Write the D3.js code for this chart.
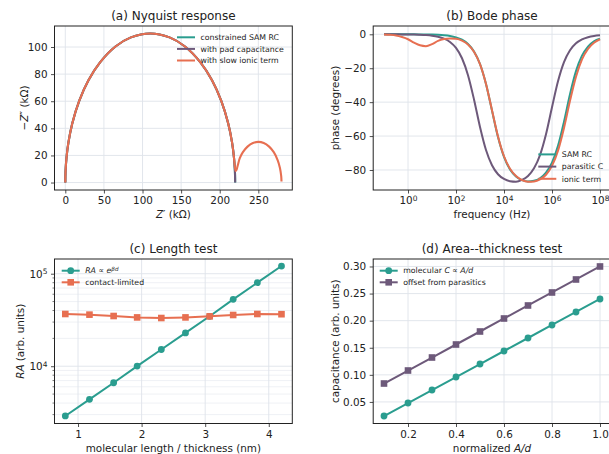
<!DOCTYPE html>
<html>
<head>
<meta charset="utf-8">
<script src="https://cdn.jsdelivr.net/npm/d3@7"></script>
<style>
  body { margin: 0; background: #fff; }
  svg text { font-family: "DejaVu Sans", sans-serif; fill: #222; }
</style>
</head>
<body>
<svg id="chart" width="609" height="454"></svg>
<script>
// (a) Nyquist response, kOhm (Z' and -Z'')
const nyqReSam = [0, 0.3, 1.5, 4, 9, 18, 30, 45, 65, 85, 110, 135, 155, 175, 190, 202, 211, 216, 218.5, 219.7, 220];
const nyqImSam = [0, 8.1, 18.1, 29.4, 43.6, 60.3, 75.5, 88.7, 100.4, 107.1, 110, 107.1, 100.4, 88.7, 75.5, 60.3, 43.6, 29.4, 18.1, 8.1, 0];
const nyqImPad = [0, 8.1, 18.1, 29.4, 43.6, 60.3, 75.5, 88.7, 100.4, 107.1, 110, 107.1, 100.4, 88.7, 75.5, 60.3, 43.6, 29.4, 18.1, 8.1, 0];
const nyqReIonic = [0, 0.3, 1.5, 4, 9, 18, 30, 45, 65, 85, 110, 135, 155, 175, 190, 202, 211, 216, 218.5,
  219.6, 220.6, 221.8, 223.5, 226, 230, 236, 243, 250, 257, 264, 270, 275, 278, 279.6, 280];
const nyqImIonic = [0, 8.1, 18.1, 29.4, 43.6, 60.3, 75.5, 88.7, 100.4, 107.1, 110, 107.1, 100.4, 88.7, 75.5, 60.3, 43.6, 29.4, 18.1,
  11.5, 8.6, 9.5, 13, 18, 22.4, 26.5, 29.2, 30, 29.2, 26.5, 22.4, 16.6, 10.8, 4.9, 0.8];

// (b) Bode phase: log10(frequency / Hz) and phase in degrees
const bodeExp = [-1, -0.75, -0.5, -0.25, 0, 0.25, 0.5, 0.75, 1, 1.25, 1.5, 1.75, 2, 2.25, 2.5, 2.75, 3, 3.25, 3.5,
  3.75, 4, 4.25, 4.5, 4.75, 5, 5.25, 5.5, 5.75, 6, 6.25, 6.5, 6.75, 7, 7.25, 7.5, 7.75, 8];
const phaseSam = [0, 0, -0.01, -0.01, -0.02, -0.03, -0.06, -0.1, -0.18, -0.32, -0.57, -1.0, -1.81, -3.2, -5.7, -10.1, -17.5, -29.3, -45,
  -60.6, -72.3, -79.7, -83.8, -86.0, -86.8, -86.4, -84.9, -81.6, -75.7, -65.8, -51.5, -35.3, -21.7, -12.6, -7.2, -4.1, -2.6];
const phasePar = [0, -0.01, -0.03, -0.05, -0.08, -0.14, -0.26, -0.46, -0.81, -1.44, -2.56, -4.5, -8.0, -14.1, -24.1, -38.4, -54.6, -68.2, -77.2,
  -82.5, -85.3, -86.6, -86.9, -85.8, -83.5, -79.0, -71.2, -58.9, -43.0, -27.7, -16.4, -9.4, -5.3, -3.0, -1.7, -0.95, -0.6];
const phaseIonic = [-0.1, -0.3, -0.7, -1.6, -2.9, -4.9, -6.5, -7.0, -5.8, -3.9, -2.8, -2.4, -2.6, -3.7, -6.0, -10.3, -17.6, -29.3, -44.8,
  -60.2, -71.9, -79.3, -83.6, -86.0, -86.9, -86.8, -85.6, -82.8, -77.6, -68.6, -55.2, -39.2, -25.0, -14.8, -8.6, -5.0, -2.9];

// (c) Length test
const lengthNm = [0.8, 1.18, 1.56, 1.93, 2.31, 2.69, 3.07, 3.44, 3.82, 4.2];
const raMolecular = [2900, 4390, 6630, 10030, 15160, 22920, 34660, 52800, 80000, 121000];
const raContact = [36700, 36100, 34900, 33700, 33200, 33700, 34600, 35800, 36700, 36500];

// (d) Area--thickness test
const areaOverD = [0.1, 0.2, 0.3, 0.4, 0.5, 0.6, 0.7, 0.8, 0.9, 1.0];
const capMolecular = [0.024, 0.048, 0.072, 0.096, 0.12, 0.144, 0.168, 0.192, 0.216, 0.24];
const capOffset = [0.084, 0.108, 0.132, 0.156, 0.18, 0.204, 0.228, 0.252, 0.276, 0.30];

const svg = d3.select("#chart");
const teal = "#2a9d8f", plum = "#6d597a", coral = "#e76f51";
const ink = "#222", gridCol = "#dfe3ea", minorCol = "#e8ebf0";

function box(l, r, t, b) { return {l, r, t, b, cx: (l + r) / 2, cy: (t + b) / 2}; }
const boxA = box(54.5, 292.3, 26, 190), boxB = box(373.2, 610.8, 26, 190);
const boxC = box(54.5, 292.3, 259, 423.5), boxD = box(373.2, 610.8, 259, 423.5);

function grid(bx, x, y, xt, yt, yMinor) {
    let g = svg.append("g");
    if (yMinor) {
        g.selectAll(".mn").data(yMinor).enter().append("line")
            .attr("x1", bx.l).attr("x2", bx.r).attr("y1", d => y(d)).attr("y2", d => y(d))
            .attr("stroke", minorCol).attr("stroke-width", 0.7);
    }
    g.selectAll(".gx").data(xt).enter().append("line")
        .attr("x1", d => x(d)).attr("x2", d => x(d)).attr("y1", bx.t).attr("y2", bx.b)
        .attr("stroke", gridCol).attr("stroke-width", 0.9);
    g.selectAll(".gy").data(yt).enter().append("line")
        .attr("x1", bx.l).attr("x2", bx.r).attr("y1", d => y(d)).attr("y2", d => y(d))
        .attr("stroke", gridCol).attr("stroke-width", 0.9);
}

function superscripts(g) {
    g.selectAll("text").each(function () {
        let s = d3.select(this), parts = s.text().split("^");
        if (parts.length < 2) return;
        s.text(parts[0]);
        s.append("tspan").attr("dy", "-0.45em").attr("font-size", "0.72em").text(parts[1]);
    });
}

function axes(bx, x, y, xt, yt, xf, yf, yMinor) {
    let gx = svg.append("g").attr("transform", `translate(0,${bx.b})`)
        .call(d3.axisBottom(x).tickValues(xt).tickFormat(xf).tickSize(3.5).tickPadding(3.5));
    let gy = svg.append("g").attr("transform", `translate(${bx.l},0)`)
        .call(d3.axisLeft(y).tickValues(yt).tickFormat(yf).tickSize(3.5).tickPadding(3.5));
    [gx, gy].forEach(g => {
        g.select(".domain").remove();
        g.selectAll("line").attr("stroke", ink).attr("stroke-width", 0.8);
        g.selectAll("text").attr("font-size", 10.4).attr("fill", ink).attr("font-family", null);
        superscripts(g);
    });
    if (yMinor) {
        svg.append("g").selectAll("line").data(yMinor).enter().append("line")
            .attr("x1", bx.l - 2).attr("x2", bx.l).attr("y1", d => y(d)).attr("y2", d => y(d))
            .attr("stroke", ink).attr("stroke-width", 0.6);
    }
    svg.append("rect").attr("x", bx.l).attr("y", bx.t)
        .attr("width", bx.r - bx.l).attr("height", bx.b - bx.t)
        .attr("fill", "none").attr("stroke", ink).attr("stroke-width", 1);
}

function richText(t, parts) {
    parts.forEach(p => {
        let sp = t.append("tspan").text(p.s);
        if (p.i) sp.attr("font-style", "italic");
        if (p.dy) sp.attr("dy", p.dy);
        if (p.fs) sp.attr("font-size", p.fs);
    });
    return t;
}

function labels(bx, title, xl, yl, ylx) {
    svg.append("text").attr("x", bx.cx).attr("y", bx.t - 6).attr("text-anchor", "middle")
        .attr("font-size", 12).text(title);
    richText(svg.append("text").attr("x", bx.cx).attr("y", bx.b + 28)
        .attr("text-anchor", "middle").attr("font-size", 10.4), xl);
    richText(svg.append("text").attr("transform", `translate(${ylx},${bx.cy}) rotate(-90)`)
        .attr("text-anchor", "middle").attr("font-size", 10.4), yl);
}

function marker(g, type, cx, cy, color) {
    if (type === "circle") {
        g.append("circle").attr("cx", cx).attr("cy", cy).attr("r", 3.4).attr("fill", color);
    } else if (type === "square") {
        g.append("rect").attr("x", cx - 3.3).attr("y", cy - 3.3).attr("width", 6.6).attr("height", 6.6).attr("fill", color);
    }
}

function legend(x0, y0, step, items) {
    let g = svg.append("g");
    items.forEach((it, i) => {
        let yy = y0 + i * step;
        g.append("line").attr("x1", x0).attr("x2", x0 + 18).attr("y1", yy).attr("y2", yy)
            .attr("stroke", it.color).attr("stroke-width", 2);
        if (it.marker) marker(g, it.marker, x0 + 9, yy, it.color);
        richText(g.append("text").attr("x", x0 + 23.5).attr("y", yy).attr("dy", "0.35em")
            .attr("font-size", 7.8), it.label);
    });
}

function series(xv, yv) { return xv.map((v, i) => [v, yv[i]]); }

// ---------- (a) Nyquist ----------
{
    let x = d3.scaleLinear().domain([-14, 294]).range([boxA.l, boxA.r]);
    let y = d3.scaleLinear().domain([-5.5, 115.5]).range([boxA.b, boxA.t]);
    let xt = [0, 50, 100, 150, 200, 250], yt = [0, 20, 40, 60, 80, 100];
    grid(boxA, x, y, xt, yt);
    let line = d3.line().x(d => x(d[0])).y(d => y(d[1])).curve(d3.curveCatmullRom.alpha(0.5));
    [[series(nyqReSam, nyqImSam), teal], [series(nyqReSam, nyqImPad), plum], [series(nyqReIonic, nyqImIonic), coral]]
        .forEach(([pts, c]) => {
            svg.append("path").datum(pts).attr("d", line).attr("fill", "none")
                .attr("stroke", c).attr("stroke-width", 2.1);
        });
    axes(boxA, x, y, xt, yt, d3.format("d"), d3.format("d"));
    labels(boxA, "(a) Nyquist response",
        [{s: "Z", i: true}, {s: "′ (kΩ)"}],
        [{s: "−"}, {s: "Z", i: true}, {s: "″ (kΩ)"}], 27.6);
    legend(177, 37.3, 11.6, [
        {color: teal, label: [{s: "constrained SAM RC"}]},
        {color: plum, label: [{s: "with pad capacitance"}]},
        {color: coral, label: [{s: "with slow ionic term"}]}
    ]);
}

// ---------- (b) Bode phase ----------
{
    let x = d3.scaleLog().domain([Math.pow(10, -1.45), Math.pow(10, 8.45)]).range([boxB.l, boxB.r]);
    let y = d3.scaleLinear().domain([-91.8, 4.9]).range([boxB.b, boxB.t]);
    let xt = [1, 1e2, 1e4, 1e6, 1e8], yt = [-80, -60, -40, -20, 0];
    grid(boxB, x, y, xt, yt);
    let line = d3.line().x(d => x(Math.pow(10, d[0]))).y(d => y(d[1])).curve(d3.curveMonotoneX);
    [[phaseSam, teal], [phasePar, plum], [phaseIonic, coral]].forEach(([ph, c]) => {
        svg.append("path").datum(series(bodeExp, ph)).attr("d", line).attr("fill", "none")
            .attr("stroke", c).attr("stroke-width", 2);
    });
    axes(boxB, x, y, xt, yt, d => "10^" + Math.round(Math.log10(d)), d3.format("d"));
    labels(boxB, "(b) Bode phase", [{s: "frequency (Hz)"}], [{s: "phase (degrees)"}], 339.3);
    legend(538.3, 154.4, 12.2, [
        {color: teal, label: [{s: "SAM RC"}]},
        {color: plum, label: [{s: "parasitic C"}]},
        {color: coral, label: [{s: "ionic term"}]}
    ]);
}

// ---------- (c) Length test ----------
{
    let x = d3.scaleLinear().domain([0.63, 4.37]).range([boxC.l, boxC.r]);
    let y = d3.scaleLog().domain([Math.pow(10, 3.381), Math.pow(10, 5.159)]).range([boxC.b, boxC.t]);
    let xt = [1, 2, 3, 4], yt = [1e4, 1e5];
    let yMinor = [3000, 4000, 5000, 6000, 7000, 8000, 9000, 20000, 30000, 40000, 50000, 60000, 70000, 80000, 90000];
    grid(boxC, x, y, xt, yt, yMinor);
    let line = d3.line().x(d => x(d[0])).y(d => y(d[1]));
    [[raMolecular, teal, "circle"], [raContact, coral, "square"]].forEach(([v, c, m]) => {
        let pts = series(lengthNm, v);
        svg.append("path").datum(pts).attr("d", line).attr("fill", "none")
            .attr("stroke", c).attr("stroke-width", 2);
        let g = svg.append("g");
        pts.forEach(p => marker(g, m, x(p[0]), y(p[1]), c));
    });
    axes(boxC, x, y, xt, yt, d3.format("d"), d => "10^" + Math.round(Math.log10(d)), yMinor);
    labels(boxC, "(c) Length test", [{s: "molecular length / thickness (nm)"}],
        [{s: "RA", i: true}, {s: " (arb. units)"}], 24.3);
    legend(61.7, 270.7, 11.6, [
        {color: teal, marker: "circle", label: [{s: "RA", i: true}, {s: " ∝ "}, {s: "e", i: true},
            {s: "βd", i: true, dy: "-0.45em", fs: "0.72em"}]},
        {color: coral, marker: "square", label: [{s: "contact-limited"}]}
    ]);
}

// ---------- (d) Area--thickness test ----------
{
    let x = d3.scaleLinear().domain([0.055, 1.045]).range([boxD.l, boxD.r]);
    let y = d3.scaleLinear().domain([0.0102, 0.3138]).range([boxD.b, boxD.t]);
    let xt = [0.2, 0.4, 0.6, 0.8, 1.0], yt = [0.05, 0.10, 0.15, 0.20, 0.25, 0.30];
    grid(boxD, x, y, xt, yt);
    let line = d3.line().x(d => x(d[0])).y(d => y(d[1]));
    [[capMolecular, teal, "circle"], [capOffset, plum, "square"]].forEach(([v, c, m]) => {
        let pts = series(areaOverD, v);
        svg.append("path").datum(pts).attr("d", line).attr("fill", "none")
            .attr("stroke", c).attr("stroke-width", 2);
        let g = svg.append("g");
        pts.forEach(p => marker(g, m, x(p[0]), y(p[1]), c));
    });
    axes(boxD, x, y, xt, yt, d3.format(".1f"), d3.format(".2f"));
    labels(boxD, "(d) Area--thickness test", [{s: "normalized "}, {s: "A/d", i: true}],
        [{s: "capacitance (arb. units)"}], 338.6);
    legend(379.7, 270.7, 11.6, [
        {color: teal, marker: "circle", label: [{s: "molecular "}, {s: "C", i: true}, {s: " ∝ "}, {s: "A/d", i: true}]},
        {color: plum, marker: "square", label: [{s: "offset from parasitics"}]}
    ]);
}
</script>
</body>
</html>
